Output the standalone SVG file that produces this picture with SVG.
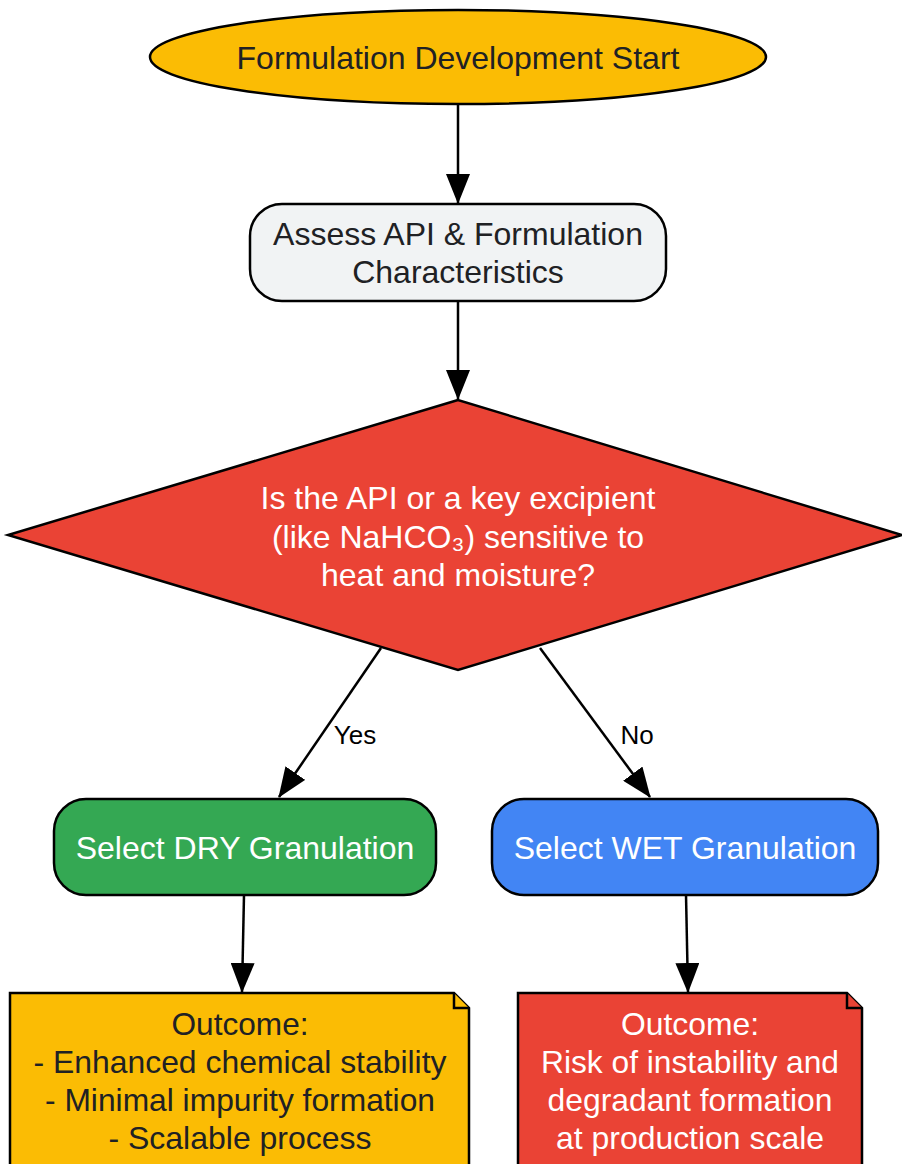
<svg xmlns="http://www.w3.org/2000/svg" width="902" height="1164" viewBox="0 0 902 1164">
<defs>
<style>
.n{stroke:#000;stroke-width:2.5}
.t{font-family:"Liberation Sans",Arial,sans-serif;font-size:32px;text-anchor:middle;dominant-baseline:central}
.d{fill:#202124}
.w{fill:#ffffff}
.e{stroke:#000;stroke-width:2.5;fill:none;marker-end:url(#ah)}
.l{font-family:"Liberation Sans",Arial,sans-serif;font-size:26px;fill:#000;text-anchor:middle;dominant-baseline:central}
</style>
<marker id="ah" viewBox="0 0 30 24" refX="29" refY="12" markerWidth="30" markerHeight="24" markerUnits="userSpaceOnUse" orient="auto">
<path d="M0,0 L30,12 L0,24 Z" fill="#000"/>
</marker>
</defs>
<g id="connectors">
<line class="e" x1="458" y1="105" x2="458" y2="203"/>
<line class="e" x1="458" y1="302" x2="458" y2="399"/>
<line class="e" x1="381" y1="648" x2="279" y2="797"/>
<line class="e" x1="540" y1="648" x2="650" y2="797"/>
<line class="e" x1="244" y1="895" x2="242" y2="992"/>
<line class="e" x1="686" y1="895" x2="688" y2="992"/>
<text class="l" x="355" y="735">Yes</text>
<text class="l" x="637" y="735">No</text>
</g>
<g id="start">
<ellipse class="n" cx="458" cy="57" rx="308" ry="47" fill="#fbbc04"/>
<text class="t d" x="458" y="58">Formulation Development Start</text>
</g>
<g id="assess">
<rect class="n" x="250" y="204" width="416" height="97" rx="32" fill="#f1f3f4"/>
<text class="t d" x="458" y="234">Assess API &amp; Formulation</text>
<text class="t d" x="458" y="272">Characteristics</text>
</g>
<g id="decision">
<polygon class="n" points="458,400 8,535 458,670 902,535" fill="#ea4335"/>
<text class="t w" x="458" y="498">Is the API or a key excipient</text>
<text class="t w" x="458" y="537">(like NaHCO₃) sensitive to</text>
<text class="t w" x="458" y="575">heat and moisture?</text>
</g>
<g id="dry">
<rect class="n" x="54" y="799" width="382" height="96" rx="32" fill="#34a853"/>
<text class="t w" x="245" y="848">Select DRY Granulation</text>
</g>
<g id="wet">
<rect class="n" x="492" y="799" width="386" height="96" rx="32" fill="#4285f4"/>
<text class="t w" x="685" y="848">Select WET Granulation</text>
</g>
<g id="outcome-dry">
<path class="n" d="M10,993 H454 L469,1008 V1170 H10 Z" fill="#fbbc04"/>
<path class="n" d="M454,993 V1008 H469" fill="#fbbc04"/>
<text class="t d" x="240" y="1024" textLength="137" lengthAdjust="spacingAndGlyphs">Outcome:</text>
<text class="t d" x="240" y="1062" textLength="413" lengthAdjust="spacingAndGlyphs">- Enhanced chemical stability</text>
<text class="t d" x="240" y="1100" textLength="390" lengthAdjust="spacingAndGlyphs">- Minimal impurity formation</text>
<text class="t d" x="240" y="1138" textLength="263" lengthAdjust="spacingAndGlyphs">- Scalable process</text>
</g>
<g id="outcome-wet">
<path class="n" d="M518,993 H847 L862,1008 V1170 H518 Z" fill="#ea4335"/>
<path class="n" d="M847,993 V1008 H862" fill="#ea4335"/>
<text class="t w" x="690" y="1024" textLength="138" lengthAdjust="spacingAndGlyphs">Outcome:</text>
<text class="t w" x="690" y="1062" textLength="298" lengthAdjust="spacingAndGlyphs">Risk of instability and</text>
<text class="t w" x="690" y="1100" textLength="285" lengthAdjust="spacingAndGlyphs">degradant formation</text>
<text class="t w" x="690" y="1138" textLength="268" lengthAdjust="spacingAndGlyphs">at production scale</text>
</g>
</svg>
